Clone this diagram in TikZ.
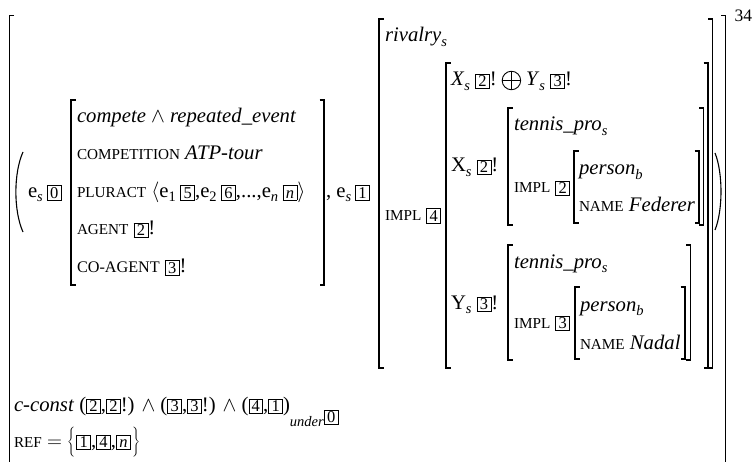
\documentclass[tikz,border=0pt]{standalone}
\usepackage{fix-cm}
\usepackage{fontspec}
\setmainfont{Liberation Serif}
\usetikzlibrary{calc}

% type sizes
\newcommand\mainsize{\fontsize{20.7}{24.8}\selectfont}
% lowered subscript
\newcommand\sub[1]{\raisebox{-4.3pt}{\fontsize{14.5}{14.5}\selectfont #1}}
% attribute names in (imitated) small capitals
\newcommand\attr[1]{{\fontsize{15.2}{15.2}\selectfont #1}}
% boxed tag
\newcommand\tg[1]{\raisebox{-2.4pt}{\fboxsep=0pt\fboxrule=0.85pt\fbox{\makebox[13pt]{\rule{0pt}{14pt}\raisebox{1.5pt}{\fontsize{16.5}{16.5}\selectfont #1}}}}}
% tall braces
\newcommand\lbrc{\(\left\{\vcenter{\hbox{\rule{0pt}{30pt}}}\right.\)}
\newcommand\rbrc{\(\left.\vcenter{\hbox{\rule{0pt}{30pt}}}\right\}\)}
% square brackets of a feature structure: x, top, bottom
\newcommand\avmL[3]{\draw[brk] ({#1+4.5},#2) -- (#1,#2) -- (#1,#3) -- ({#1+4.5},#3);}
\newcommand\avmR[3]{\draw[brk] ({#1-4.5},#2) -- (#1,#2) -- (#1,#3) -- ({#1-4.5},#3);}

\begin{document}
\begin{tikzpicture}[x=1pt,y=-1pt,
  brk/.style={line width=1.35pt},
  txt/.style={anchor=base west, inner sep=0pt, outer sep=0pt, font=\mainsize},
  opl/.style={circle, draw, line width=0.9pt, minimum size=18.5pt, inner sep=0pt,
    path picture={\draw[line width=0.9pt]
      (path picture bounding box.north) -- (path picture bounding box.south)
      (path picture bounding box.west) -- (path picture bounding box.east);}}]
\useasboundingbox[fill=white] (0,0) rectangle (754,462);

% outermost structure
\draw[brk] (14,15.7) -- (9.5,15.7) -- (9.5,462);
\draw[brk] (721,15.7) -- (725.5,15.7) -- (725.5,462);
\node[anchor=base west, inner sep=0pt, font=\fontsize{17.5}{20}\selectfont] (fn) at (734.5,22) {34};

% tuple parentheses
\draw[line width=1.1pt] (23,152) .. controls (13.5,173) and (13.5,211) .. (23,232);
\draw[line width=1.1pt] (715,153) .. controls (723,173) and (723,210) .. (715,230);

% first event
\node[txt] (e0) at (28,197.5) {e\sub{\textit{s}}\hspace{4pt}\tg{0}};
\avmL{71}{100}{285}
\avmR{324}{100}{285}
\node[txt] (r1) at (77,122.5) {\textit{compete} $\wedge$ \textit{repeated\_event}};
\node[txt] (r2) at (77,160) {\attr{COMPETITION} \textit{ATP-tour}};
\node[txt] (r3) at (77,197.5) {\attr{PLURACT} $\langle$e\sub{1}\hspace{4.5pt}\tg{5},e\sub{2}\hspace{4.5pt}\tg{6},...,e\sub{\textit{n}}\hspace{4.5pt}\tg{\textit{n}}$\rangle$};
\node[txt] (r4) at (77,235) {\attr{AGENT} \tg{2}!};
\node[txt] (r5) at (77,272.5) {{\fontsize{16.2}{16.2}\selectfont CO-AGENT} \tg{3}!};

% second event
\node[txt] (e1) at (326,197.5) {, e\sub{\textit{s}}\hspace{4pt}\tg{1}};
\avmL{379}{19}{368}
\avmR{712.5}{19}{368}
\node[txt] (riv) at (385,42) {\textit{rivalry}\sub{\textit{s}}};
\node[txt] (impl4) at (385,220.5) {\attr{IMPL} \tg{4}};

% disjoint sum of the two players
\avmL{446}{63}{368}
\avmR{708}{63}{368}
\node[txt] (xy1) at (451,86) {\textit{X}\sub{\textit{s}} \tg{2}!};
\node[opl, anchor=west] (op) at ($(xy1.base east)+(5,-5.5)$) {};
\node[txt] (xy2) at ($(op.east |- xy1.base)+(5,0)$) {\textit{Y}\sub{\textit{s}} \tg{3}!};
\node[txt] (xs) at (451,172) {X\sub{\textit{s}} \tg{2}!};
\node[txt] (ys) at (451,309) {Y\sub{\textit{s}} \tg{3}!};

% first player
\avmL{508}{108}{225}
\avmR{703.5}{108}{225}
\node[txt] (tp1) at (514,131) {\textit{tennis\_pro}\sub{\textit{s}}};
\node[txt] (impl2) at (514,193) {\attr{IMPL} \tg{2}};
\avmL{574}{151}{223}
\avmR{699}{151}{223}
\node[txt] (pb1) at (579,175) {\textit{person}\sub{\textit{b}}};
\node[txt] (nm1) at (579,212) {\attr{NAME} \textit{Federer}};

% second player
\avmL{508}{245}{360}
\avmR{690.5}{245}{360}
\node[txt] (tp2) at (514,268) {\textit{tennis\_pro}\sub{\textit{s}}};
\node[txt] (impl3) at (514,328) {\attr{IMPL} \tg{3}};
\avmL{575}{287}{359}
\avmR{685}{287}{359}
\node[txt] (pb2) at (580,311) {\textit{person}\sub{\textit{b}}};
\node[txt] (nm2) at (580,349) {\attr{NAME} \textit{Nadal}};

% constraints and referents
\node[txt] (cc) at (14,411) {\textit{c-const} (\tg{2},\tg{2}!) $\wedge$ (\tg{3},\tg{3}!) $\wedge$ (\tg{4},\tg{1})\raisebox{-15pt}{\fontsize{14.5}{14.5}\selectfont\textit{under}}\raisebox{-11pt}{\tg{0}}};
\node[txt] (ref) at (14,447) {\attr{REF} $=$ \lbrc\tg{1},\tg{4},\tg{\textit{n}}\rbrc};
\end{tikzpicture}
\end{document}
